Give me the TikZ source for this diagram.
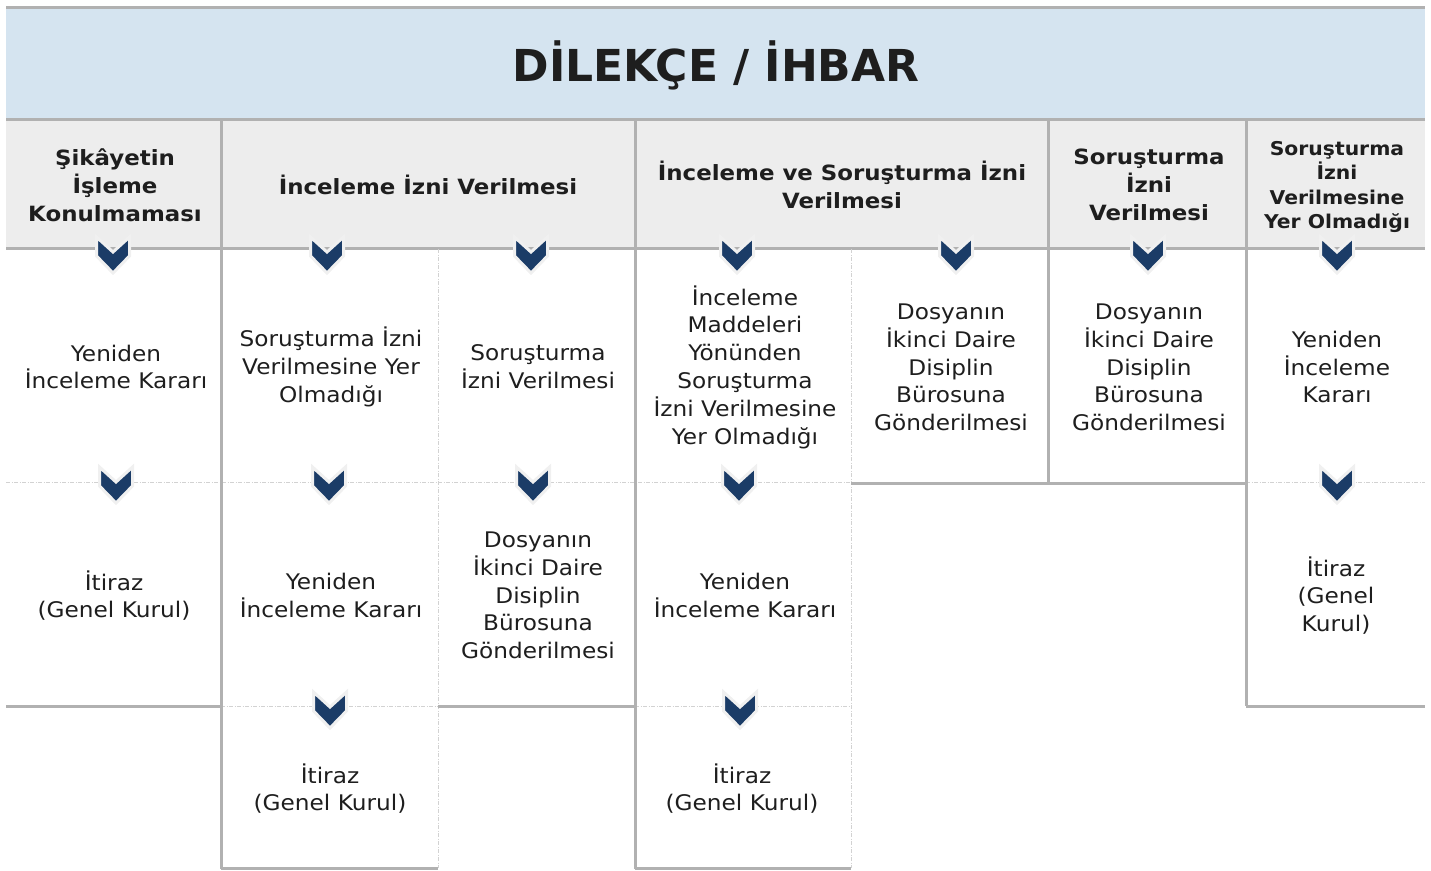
\documentclass[tikz,border=0pt]{standalone}
\usepackage{fontspec}
\setmainfont{DejaVu Sans}
\newfontfamily\bodyfont[FakeStretch=1.08]{DejaVu Sans}
\newfontfamily\headfont[FakeStretch=1.09]{DejaVu Sans Bold}
\newfontfamily\smallheadfont[FakeStretch=1.07]{DejaVu Sans Bold}
\definecolor{linegray}{HTML}{B1B1B1}
\definecolor{dashgray}{HTML}{D2D2D2}
\definecolor{hdrfill}{HTML}{EDEDED}
\definecolor{bandfill}{HTML}{D5E4F0}
\definecolor{navy}{HTML}{1B3C67}
\definecolor{txt}{HTML}{1E1E1E}
\definecolor{halo}{HTML}{F0F0F0}
\begin{document}
\begin{tikzpicture}[x=1pt,y=-1pt,
  thickline/.style={draw=linegray, line width=3pt},
  thindash/.style={draw=dashgray, line width=0.8pt, dash pattern=on 4pt off 1.5pt on 1pt off 1.5pt},
  body/.style={text=txt, align=center, font=\bodyfont\fontsize{21.5}{27.8}\selectfont, inner sep=0pt},
  head/.style={text=txt, align=center, font=\headfont\fontsize{21}{28}\selectfont, inner sep=0pt},
  headsmall/.style={text=txt, align=center, font=\smallheadfont\fontsize{19}{24.5}\selectfont, inner sep=0pt},
  chev/.pic={\draw[draw=halo, line width=3pt, line join=miter, fill=navy]
     (-16.5,0) -- (0,15) -- (16.5,0) -- (16.5,19) -- (0,36) -- (-16.5,19) -- cycle;}]
\useasboundingbox (0,0) rectangle (1431,870);
% title band
\fill[bandfill] (6,8) rectangle (1425,119);
\draw[draw=linegray, line width=2.5pt] (6,7.5) -- (1425,7.5);
% header row
\fill[hdrfill] (6,120) rectangle (1425,248);
\draw[thickline] (6,119) -- (1425,119);
\draw[thickline] (6,248) -- (1425,248);
% thin dashed lines
\draw[thindash] (6,482) -- (851,482);
\draw[thindash] (1246,482) -- (1425,482);
\draw[thindash] (221,706) -- (438,706);
\draw[thindash] (635,706) -- (851,706);
\draw[thindash] (438,249) -- (438,868);
\draw[thindash] (851,249) -- (851,868);
% thick lines
\draw[thickline] (221,120) -- (221,869);
\draw[thickline] (635,120) -- (635,869);
\draw[thickline] (1048,120) -- (1048,483);
\draw[thickline] (1246,120) -- (1246,706);
\draw[thickline] (6,706) -- (221,706);
\draw[thickline] (438,706) -- (635,706);
\draw[thickline] (1246,706) -- (1425,706);
\draw[thickline] (851,483) -- (1246,483);
\draw[thickline] (221,868) -- (438,868);
\draw[thickline] (635,868) -- (851,868);
% chevrons
\foreach \cx in {113,327,531,737,956,1148,1337} \pic at (\cx,237) {chev};
\foreach \cx in {116,329,533,739,1337} \pic at (\cx,467) {chev};
\foreach \cx in {330,740} \pic at (\cx,692) {chev};
% title
\node[text=txt, font=\bfseries\fontsize{44}{50}\selectfont, inner sep=0pt] (title) at (716,65) {DİLEKÇE / İHBAR};
% headers
\node[head] (h1) at (115,185) {Şikâyetin\\İşleme\\Konulmaması};
\node[head] (h2) at (428,185) {İnceleme İzni Verilmesi};
\node[head] (h3) at (842,185) {İnceleme ve Soruşturma İzni\\Verilmesi};
\node[head] (h4) at (1149,185) {Soruşturma\\İzni\\Verilmesi};
\node[headsmall] (h5) at (1337,187) {Soruşturma\\İzni\\Verilmesine\\Yer Olmadığı};
% body texts
\node[body] (a1) at (116,367) {Yeniden\\İnceleme Kararı};
\node[body] (a2) at (114,595.5) {İtiraz\\(Genel Kurul)};
\node[body] (b1) at (331,367) {Soruşturma İzni\\Verilmesine Yer\\Olmadığı};
\node[body] (b2) at (331,595.5) {Yeniden\\İnceleme Kararı};
\node[body] (b3) at (330,788.5) {İtiraz\\(Genel Kurul)};
\node[body] (c1) at (538,367) {Soruşturma\\İzni Verilmesi};
\node[body] (c2) at (538,595.5) {Dosyanın\\İkinci Daire\\Disiplin\\Bürosuna\\Gönderilmesi};
\node[body] (d1) at (745,367) {İnceleme\\Maddeleri\\Yönünden\\Soruşturma\\İzni Verilmesine\\Yer Olmadığı};
\node[body] (d2) at (745,595.5) {Yeniden\\İnceleme Kararı};
\node[body] (d3) at (742,788.5) {İtiraz\\(Genel Kurul)};
\node[body] (e1) at (951,367.5) {Dosyanın\\İkinci Daire\\Disiplin\\Bürosuna\\Gönderilmesi};
\node[body] (f1) at (1149,367.5) {Dosyanın\\İkinci Daire\\Disiplin\\Bürosuna\\Gönderilmesi};
\node[body] (g1) at (1337,367) {Yeniden\\İnceleme\\Kararı};
\node[body] (g2) at (1336,595.5) {İtiraz\\(Genel\\Kurul)};
\end{tikzpicture}
\end{document}
